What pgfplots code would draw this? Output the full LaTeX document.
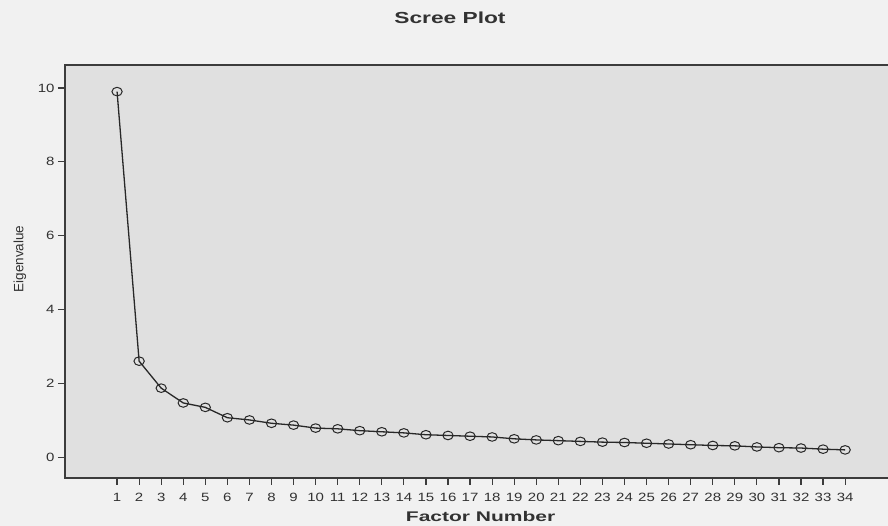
\documentclass[border=0pt]{standalone}
\usepackage{pgfplots}
\pgfplotsset{compat=1.18}
\usepackage{fontspec}
\setmainfont{Liberation Sans}
\newfontfamily\tickfont[FakeStretch=1.25]{Liberation Sans}
\newfontfamily\titlefont[FakeStretch=1.42]{Liberation Sans}
\newfontfamily\xlabfont[FakeStretch=1.5]{Liberation Sans}
\definecolor{bgc}{RGB}{241,241,241}
\definecolor{plotc}{RGB}{224,224,224}
\definecolor{axc}{RGB}{60,60,60}
\definecolor{txtc}{RGB}{50,50,50}
\definecolor{linec}{RGB}{40,40,40}
\pgfplotstableread{
f ev
1 9.90
2 2.61
3 1.88
4 1.48
5 1.36
6 1.08
7 1.02
8 0.93
9 0.88
10 0.80
11 0.78
12 0.73
13 0.70
14 0.67
15 0.62
16 0.60
17 0.58
18 0.56
19 0.51
20 0.48
21 0.46
22 0.44
23 0.42
24 0.41
25 0.39
26 0.37
27 0.35
28 0.33
29 0.32
30 0.29
31 0.27
32 0.26
33 0.23
34 0.21
}\scree
\begin{document}
\begin{tikzpicture}
\fill[bgc] (0pt,0pt) rectangle (888pt,526pt);
\useasboundingbox (0pt,0pt) rectangle (888pt,526pt);
\begin{axis}[
  at={(65pt,48pt)}, anchor=south west,
  scale only axis, width=828pt, height=413pt,
  xmin=-1.36, xmax=36.17, ymin=-0.55, ymax=10.62,
  axis background/.style={fill=plotc},
  axis line style={draw=axc, line width=1.1pt},
  tick style={color=axc, line width=1.2pt},
  tick align=outside, major tick length=7pt,
  xtick pos=bottom, ytick pos=left,
  xtick={1,...,34}, ytick={0,2,...,10},
  /pgf/number format/assume math mode=true,
  ticklabel style={font=\tickfont\fontsize{12}{13}\selectfont, text=txtc},
  xticklabel style={yshift=-5pt},
  title={Scree Plot},
  title style={font=\titlefont\bfseries\fontsize{16}{18}\selectfont, text=txtc,
    at={(axis description cs:0.465,1.10)}, anchor=center},
  xlabel={Factor Number},
  xlabel style={font=\xlabfont\bfseries\fontsize{14}{16}\selectfont, text=txtc,
    at={(axis description cs:0.502,-0.094)}, anchor=center},
  ylabel={Eigenvalue},
  ylabel style={font=\fontsize{13.5}{15}\selectfont, text=txtc,
    at={(axis description cs:-0.0545,0.530)}, anchor=center},
]
\addplot[color=linec, line width=1.3pt, mark=o, mark size=4.3pt,
  mark options={xscale=1.2, draw=linec, fill=none, line width=1pt}]
  table[x=f, y=ev] {\scree};
\end{axis}
\end{tikzpicture}
\end{document}
